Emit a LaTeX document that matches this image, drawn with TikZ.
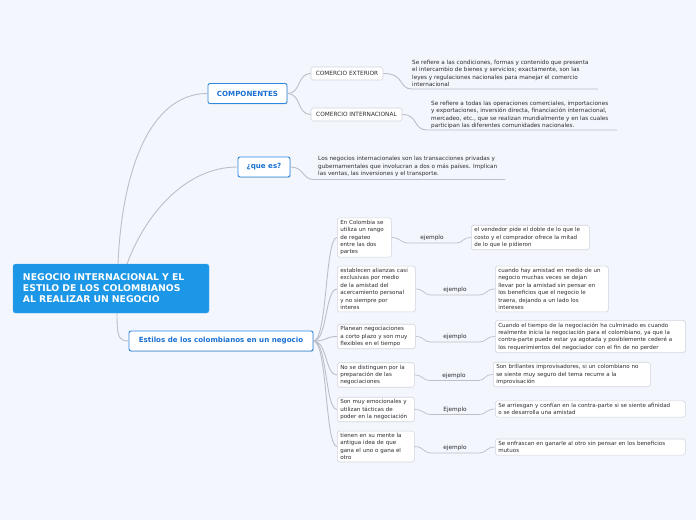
\documentclass[tikz,border=0pt]{standalone}
\usepackage{fontspec}
\usetikzlibrary{shadows}
\setmainfont{DejaVu Sans}
\definecolor{bg}{RGB}{244,246,253}
\definecolor{rootblue}{RGB}{28,150,230}
\definecolor{bluebd}{RGB}{45,135,222}
\definecolor{bluetx}{RGB}{25,112,210}
\definecolor{conn}{RGB}{188,190,200}
\definecolor{boxbd}{RGB}{210,212,222}
\definecolor{txt}{RGB}{45,45,50}
\tikzset{
  conn/.style={draw=conn, line width=0.9pt},
  rootbox/.style={fill=rootblue, draw=rootblue!80!white, rounded corners=2.5pt, text=white,
     font=\bfseries\fontsize{9.3}{11}\selectfont, align=left, inner xsep=10pt, inner ysep=0pt,
     minimum width=196pt, minimum height=49pt, text width=176pt},
  mainbox/.style={fill=white, draw=bluebd, line width=0.9pt, rounded corners=2pt, text=bluetx,
     font=\bfseries\fontsize{7.1}{8}\selectfont, inner sep=0pt, minimum height=20pt,
     drop shadow={shadow xshift=0.6pt, shadow yshift=-0.9pt, opacity=0.25}},
  subbox/.style={fill=white, draw=boxbd, line width=0.6pt, rounded corners=1.8pt, text=txt,
     font=\fontsize{5.8}{7.3}\selectfont, inner sep=0pt, minimum height=13pt},
  cbox/.style={fill=white, draw=boxbd, line width=0.6pt, rounded corners=1.8pt, text=txt,
     font=\fontsize{5.55}{7.4}\selectfont, align=left, inner xsep=3pt, inner ysep=2.2pt},
  plain/.style={text=txt, font=\fontsize{5.7}{7.6}\selectfont, align=left, inner sep=0pt},
  lab/.style={text=txt, font=\fontsize{5.8}{7}\selectfont, inner sep=0.5pt},
}
\begin{document}
\begin{tikzpicture}[x=1pt,y=-1pt]
\fill[bg] (0,0) rectangle (696,520);
\useasboundingbox (0,0) rectangle (696,520);

% connectors root (drawn first, under the boxes)
\coordinate (rt1) at (118,264);
\coordinate (rt2) at (127,264);
\coordinate (rb) at (117,313);
\node[mainbox, minimum width=79pt] (comp) at (247.5,93.5) {COMPONENTES};
\node[mainbox, minimum width=52pt] (que) at (264,167) {¿que es?};
\node[mainbox, minimum width=184pt] (est) at (221,341) {Estilos de los colombianos en un negocio};

\draw[conn] (rt1) .. controls (122,170) and (150,93.5) .. (comp.west);
\draw[conn] (rt2) .. controls (145,215) and (185,167) .. (que.west);
\draw[conn] (rb) .. controls (117,335) and (118,341) .. (est.west);

% main node
\node[rootbox] (root) at (111,288.5) {NEGOCIO INTERNACIONAL Y EL\\ESTILO DE LOS COLOMBIANOS\\AL REALIZAR UN NEGOCIO};

% componentes children
\node[subbox, minimum width=72pt] (ce) at (347,73.5) {COMERCIO EXTERIOR};
\node[subbox, minimum width=91pt] (ci) at (356.5,114.5) {COMERCIO INTERNACIONAL};

\node[plain, anchor=north west] (t1) at (412,59.5) {Se refiere a las condiciones, formas y contenido que presenta\\el intercambio de bienes y servicios; exactamente, son las\\leyes y regulaciones nacionales para manejar el comercio\\internacional};
\node[plain, anchor=north west] (t2) at (431,100.5) {Se refiere a todas las operaciones comerciales, importaciones\\y exportaciones, inversión directa, financiación internacional,\\mercadeo, etc., que se realizan mundialmente y en las cuales\\participan las diferentes comunidades nacionales.};
\node[plain, anchor=north west] (t3) at (318,156) {Los negocios internacionales son las transacciones privadas y\\gubernamentales que involucran a dos o más países. Implican\\las ventas, las inversiones y el transporte.};

\coordinate (u1a) at (412,89); \coordinate (u1b) at (598,89);
\coordinate (u2a) at (427,130); \coordinate (u2b) at (617,130);
\coordinate (u3a) at (314,179.5); \coordinate (u3b) at (505,179.5);

% estilos children
\node[cbox, anchor=west, text width=48pt] (c1) at (337,237.5) {En Colombia se\\utiliza un rango\\de regateo\\entre las dos\\partes};
\node[cbox, anchor=west, text width=72pt] (c2) at (337,289) {establecen alianzas casi\\exclusivas  por medio\\de la amistad del\\acercamiento personal\\y no siempre por\\interes};
\node[cbox, anchor=west, text width=72pt] (c3) at (337,336.5) {Planean negociaciones\\a corto plazo y son muy\\flexibles en el tiempo};
\node[cbox, anchor=west, text width=71pt] (c4) at (337,375) {No se distinguen por la\\preparación de las\\negociaciones};
\node[cbox, anchor=west, text width=71pt] (c5) at (337,409.5) {Son muy emocionales y\\utilizan tácticas de\\poder en la negociación};
\node[cbox, anchor=west, text width=71pt] (c6) at (337,446.5) {tienen en su mente la\\antigua idea de que\\gana  el uno o gana el\\otro};

\node[cbox, anchor=west, text width=112pt] (e1) at (471,237.5) {el vendedor pide el doble de lo que le\\costo y el comprador ofrece la mitad\\de lo que le pidieron};
\node[cbox, anchor=west, text width=107pt] (e2) at (495,289) {cuando hay amistad en medio de un\\negocio muchas veces se dejan\\llevar por la amistad sin pensar en\\los beneficios que el negocio le\\traera, dejando a un lado los\\intereses};
\node[cbox, anchor=west, text width=184pt] (e3) at (495,336.5) {Cuando el tiempo de la negociación ha culminado es cuando\\realmente inicia la negociación para el colombiano, ya que la\\contra-parte puede estar ya agotada y posiblemente cederé a\\los requerimientos del negociador con el fin de no perder};
\node[cbox, anchor=west, text width=151pt] (e4) at (493,374.5) {Son brillantes improvisadores, si un colombiano no\\se siente muy seguro del tema recurre a la\\improvisación};
\node[cbox, anchor=west, text width=184pt] (e5) at (495,409) {Se arriesgan y confían en la contra-parte si se siente afinidad\\o se desarrolla una amistad};
\node[cbox, anchor=west, text width=184pt] (e6) at (495,447) {Se enfrascan en ganarle al otro sin pensar en los beneficios\\mutuos};

% labels
\node[lab] (l1) at (432,238) {ejemplo};
\node[lab] (l2) at (455,290) {ejemplo};
\node[lab] (l3) at (455,337) {ejemplo};
\node[lab] (l4) at (454,375.5) {ejemplo};
\node[lab] (l5) at (455,409.5) {Ejemplo};
\node[lab] (l6) at (455,448) {ejemplo};

\draw[conn] (comp.east) .. controls +(14,0) and +(-14,0) .. (ce.west);
\draw[conn] (comp.east) .. controls +(14,0) and +(-14,0) .. (ci.west);
\draw[conn] (ce.east) .. controls +(22,0) and +(-14,0) .. (u1a) -- (u1b);
\draw[conn] (ci.east) .. controls +(16,0) and +(-14,0) .. (u2a) -- (u2b);
\draw[conn] (que.east) .. controls +(14,0) and +(-12,0) .. (u3a) -- (u3b);

\foreach \c in {c1,c2,c3,c4,c5,c6}
  \draw[conn] (est.east) .. controls +(14,0) and +(-12,0) .. (\c.west);

\foreach \c/\l/\e in {c1/l1/e1,c2/l2/e2,c3/l3/e3,c4/l4/e4,c5/l5/e5,c6/l6/e6}{
  \coordinate (\l a) at ([xshift=-12pt,yshift=-1.5pt]\l.south west);
  \coordinate (\l b) at ([xshift=12pt,yshift=-1.5pt]\l.south east);
  \draw[conn, line width=0.7pt] (\c.east) .. controls +(9,0) and +(-7,0) .. (\l a) -- (\l b)
     .. controls +(7,0) and +(-9,0) .. (\e.west);
}
\end{tikzpicture}
\end{document}
